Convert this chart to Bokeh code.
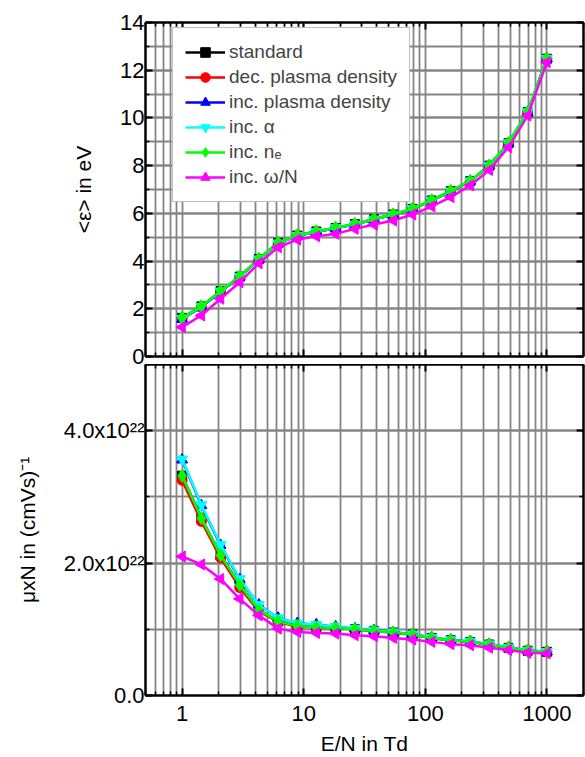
import math
from bokeh.plotting import figure
from bokeh.layouts import column
from bokeh.models import (LogAxis, LinearAxis, Legend, LegendItem, FixedTicker,
                          Range1d, CustomJSTickFormatter)
from bokeh.embed import file_html
from bokeh.resources import INLINE

# reduced field E/N in Td
en_td = [1.0, 1.44, 2.07, 2.98, 4.28, 6.16, 8.86, 12.7, 18.3, 26.4,
         37.9, 54.6, 78.5, 113.0, 162.0, 234.0, 336.0, 483.0, 695.0, 1000.0]

# mean electron energy <eps> in eV
energy_standard = [1.62, 2.10, 2.74, 3.35, 4.09, 4.76, 5.07, 5.24, 5.39, 5.55,
                   5.75, 5.95, 6.19, 6.54, 6.93, 7.35, 8.00, 8.94, 10.24, 12.48]
energy_dec_density = [1.60, 2.08, 2.72, 3.33, 4.07, 4.74, 5.06, 5.23, 5.38, 5.54,
                      5.74, 5.94, 6.18, 6.53, 6.92, 7.34, 7.99, 8.93, 10.23, 12.47]
energy_inc_density = [1.57, 2.07, 2.71, 3.34, 4.08, 4.75, 5.06, 5.23, 5.38, 5.54,
                      5.75, 5.95, 6.19, 6.53, 6.92, 7.35, 8.00, 8.94, 10.24, 12.48]
energy_inc_alpha = [1.59, 2.09, 2.73, 3.34, 4.08, 4.75, 5.06, 5.23, 5.39, 5.54,
                    5.75, 5.95, 6.19, 6.54, 6.93, 7.35, 8.00, 8.95, 10.25, 12.49]
energy_inc_ne = [1.63, 2.11, 2.75, 3.36, 4.10, 4.77, 5.08, 5.25, 5.40, 5.56,
                 5.76, 5.96, 6.20, 6.55, 6.94, 7.36, 8.01, 8.95, 10.25, 12.48]
energy_inc_omega = [1.23, 1.72, 2.42, 3.11, 3.91, 4.58, 4.90, 5.04, 5.14, 5.35,
                    5.53, 5.70, 5.95, 6.29, 6.68, 7.17, 7.82, 8.77, 10.10, 12.33]

# reduced mobility mu*N in units of 1e22 (cm V s)^-1
mob_standard = [3.32, 2.68, 2.12, 1.67, 1.29, 1.12, 1.05, 1.03, 1.02, 1.00,
                0.975, 0.95, 0.92, 0.87, 0.835, 0.81, 0.77, 0.72, 0.676, 0.66]
mob_dec_density = [3.25, 2.63, 2.08, 1.63, 1.27, 1.11, 1.04, 1.03, 1.02, 1.00,
                   0.975, 0.95, 0.92, 0.87, 0.835, 0.81, 0.77, 0.72, 0.676, 0.66]
mob_inc_density = [3.56, 2.87, 2.27, 1.75, 1.37, 1.17, 1.09, 1.07, 1.04, 1.01,
                   0.985, 0.955, 0.925, 0.875, 0.84, 0.815, 0.775, 0.725, 0.68, 0.662]
mob_inc_alpha = [3.57, 2.88, 2.28, 1.76, 1.37, 1.17, 1.09, 1.07, 1.04, 1.01,
                 0.985, 0.955, 0.925, 0.875, 0.84, 0.815, 0.775, 0.725, 0.68, 0.662]
mob_inc_ne = [3.32, 2.68, 2.12, 1.67, 1.29, 1.12, 1.05, 1.03, 1.02, 1.00,
              0.975, 0.95, 0.92, 0.87, 0.835, 0.81, 0.77, 0.72, 0.676, 0.66]
mob_inc_omega = [2.10, 1.98, 1.76, 1.46, 1.21, 1.01, 0.96, 0.945, 0.935, 0.91,
                 0.895, 0.87, 0.845, 0.81, 0.776, 0.76, 0.72, 0.687, 0.646, 0.637]

series_labels = ["standard", "dec. plasma density", "inc. plasma density",
                 "inc. \u03b1", "inc. n\u2091", "inc. \u03c9/N"]
series_colors = ["#000000", "#ff0000", "#0000ff", "#00ffff", "#00ff00", "#ff00ff"]
series_markers = ["square", "circle", "triangle", "inverted_triangle", "diamond", "triangle"]
marker_sizes = [9, 10, 11, 11, 13, 11]
marker_angles = [0, 0, 0, 0, 0, math.pi / 2]

# axis ticks
x_major = [1, 10, 100, 1000]
x_tick_labels = ["1", "10", "100", "1000"]
x_minor = [0.5, 0.6, 0.7, 0.8, 0.9, 2, 3, 4, 5, 6, 7, 8, 9,
           20, 30, 40, 50, 60, 70, 80, 90, 200, 300, 400, 500, 600, 700, 800, 900, 2000]
y1_major = [0, 2, 4, 6, 8, 10, 12, 14]
y1_minor = list(range(0, 15))
y2_major = [0, 2, 4]
y2_tick_labels = ["0.0", "2.0x10\u00b2\u00b2", "4.0x10\u00b2\u00b2"]
y2_minor = [0, 1, 2, 3, 4, 5]

FONT = "Liberation Sans"
TICK_SIZE = "22px"
LABEL_SIZE = "21px"
GRID = "#858585"

x_ticker = FixedTicker(ticks=x_major, minor_ticks=x_minor)
x_fmt = CustomJSTickFormatter(args=dict(vals=x_major, labs=x_tick_labels),
                              code="const i = vals.indexOf(tick); return i >= 0 ? labs[i] : '';")
y2_fmt = CustomJSTickFormatter(args=dict(vals=y2_major, labs=y2_tick_labels),
                               code="const i = vals.indexOf(tick); return i >= 0 ? labs[i] : '';")


def frame_axis(ax, labels=True):
    ax.axis_line_color = "black"
    ax.axis_line_width = 2.5
    ax.major_tick_in = 7
    ax.major_tick_out = 0
    ax.minor_tick_in = 4
    ax.minor_tick_out = 0
    ax.major_tick_line_color = "black"
    ax.minor_tick_line_color = "black"
    ax.major_tick_line_width = 2
    ax.minor_tick_line_width = 1.5
    ax.major_label_text_font = FONT
    ax.major_label_text_font_size = TICK_SIZE
    ax.major_label_text_color = "black"
    ax.axis_label_text_font = FONT
    ax.axis_label_text_font_size = LABEL_SIZE
    ax.axis_label_text_font_style = "normal"
    ax.axis_label_text_color = "black"
    if not labels:
        # ticks only: the labels are neither painted nor given room
        ax.major_label_text_color = None
        ax.major_label_text_font_size = "1px"
        ax.major_label_standoff = 0
        ax.axis_label = None


def make_panel(height, y_range, y_ticker, border_top, border_bottom, x_labels):
    p = figure(width=585, height=height, x_axis_type="log",
               x_range=Range1d(0.5, 2000), y_range=y_range,
               output_backend="svg", toolbar_location=None,
               min_border_left=145, min_border_right=2,
               min_border_top=border_top, min_border_bottom=border_bottom)
    p.outline_line_color = None
    p.background_fill_color = "white"
    p.border_fill_color = "white"
    bottom_ax = p.below[0]
    left_ax = p.left[0]
    bottom_ax.ticker = x_ticker
    bottom_ax.formatter = x_fmt
    left_ax.ticker = y_ticker
    frame_axis(bottom_ax, labels=x_labels)
    frame_axis(left_ax)
    left_ax.major_label_standoff = 1
    left_ax.axis_label_standoff = 22
    for g in (p.xgrid, p.ygrid):
        g.grid_line_color = GRID
        g.grid_line_width = 1.8
        g.grid_line_alpha = 1
        g.minor_grid_line_color = GRID
        g.minor_grid_line_width = 1.8
    p.xgrid.ticker = x_ticker
    p.ygrid.ticker = y_ticker
    top_ax = LogAxis(ticker=x_ticker, formatter=x_fmt)
    right_ax = LinearAxis(ticker=y_ticker)
    frame_axis(top_ax, labels=False)
    frame_axis(right_ax, labels=False)
    p.add_layout(top_ax, "above")
    p.add_layout(right_ax, "right")
    return p, bottom_ax, left_ax


def draw_series(p, ys_list):
    items = []
    for label, ys, color, marker, size, angle in zip(series_labels, ys_list, series_colors,
                                                     series_markers, marker_sizes, marker_angles):
        line = p.line(en_td, ys, line_color=color, line_width=2.5)
        pts = p.scatter(en_td, ys, marker=marker, size=size, angle=angle,
                        fill_color=color, line_color=color, line_width=1)
        items.append(LegendItem(label=label, renderers=[line, pts]))
    return items


# upper panel: mean energy
p1, p1_bottom, p1_left = make_panel(364, Range1d(0, 14),
                                    FixedTicker(ticks=y1_major, minor_ticks=y1_minor),
                                    22, 8, x_labels=False)
p1_left.axis_label = "<\u03b5> in eV"
items = draw_series(p1, [energy_standard, energy_dec_density, energy_inc_density,
                         energy_inc_alpha, energy_inc_ne, energy_inc_omega])
legend = Legend(items=items, location=(27, 154), orientation="vertical")
legend.label_text_font = FONT
legend.label_text_font_size = "19px"
legend.label_standoff = 4
legend.glyph_width = 40
legend.glyph_height = 24
legend.spacing = 1
legend.padding = 12
legend.margin = 0
legend.border_line_color = "#808080"
legend.border_line_width = 1
legend.background_fill_color = "white"
legend.background_fill_alpha = 1
p1.add_layout(legend, "center")

# lower panel: reduced mobility
p2, p2_bottom, p2_left = make_panel(393, Range1d(0, 5),
                                    FixedTicker(ticks=y2_major, minor_ticks=y2_minor),
                                    0, 60, x_labels=True)
p2_left.formatter = y2_fmt
p2_left.axis_label = "\u03bcxN in (cmVs)\u207b\u00b9"
p2_bottom.major_label_standoff = 10
p2_bottom.axis_label = "E/N in Td"
p2_bottom.axis_label_standoff = 8
draw_series(p2, [mob_standard, mob_dec_density, mob_inc_density,
                 mob_inc_alpha, mob_inc_ne, mob_inc_omega])

layout = column(p1, p2, spacing=0)
open("out.html", "w").write(file_html(layout, INLINE))
